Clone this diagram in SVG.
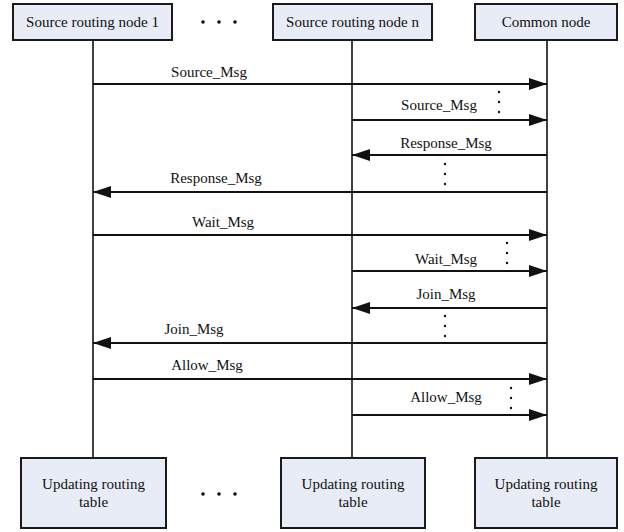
<svg xmlns="http://www.w3.org/2000/svg" width="624" height="532" viewBox="0 0 624 532" font-family="'Liberation Serif', 'DejaVu Serif', 'Times New Roman', serif">
  <style>
    .box { fill: #e8ecf6; stroke: #1a1a1a; stroke-width: 2; }
    .txt { font-family: 'Liberation Serif', 'DejaVu Serif', 'Times New Roman', serif; font-size: 15px; fill: #111; text-anchor: middle; }
    .life { stroke: #111; stroke-width: 1.6; fill: none; }
    .msg { stroke: #111; stroke-width: 1.8; fill: none; }
    .dot { fill: #111; }
  </style>
  <defs>
    <marker id="head" viewBox="0 0 18 12" refX="18" refY="6" markerWidth="18" markerHeight="12" markerUnits="userSpaceOnUse" orient="auto">
      <path d="M0,0 L18,6 L0,12 Z" fill="#111"/>
    </marker>
  </defs>

  <!-- lifelines -->
  <g id="lifelines">
    <line class="life" x1="93" y1="40" x2="93" y2="458"/>
    <line class="life" x1="352" y1="40" x2="352" y2="458"/>
    <line class="life" x1="547" y1="40" x2="547" y2="458"/>
  </g>

  <!-- top participants -->
  <g id="src1">
    <rect class="box" x="13" y="4" width="159" height="36"/>
    <text class="txt" x="92.5" y="27">Source routing node 1</text>
  </g>
  <g id="srcn">
    <rect class="box" x="273" y="4" width="159" height="36"/>
    <text class="txt" x="352.5" y="27">Source routing node n</text>
  </g>
  <g id="common">
    <rect class="box" x="475" y="4" width="142" height="36"/>
    <text class="txt" x="546" y="27">Common node</text>
  </g>
  <g id="top-ellipsis">
    <circle class="dot" cx="203" cy="22" r="1.8"/>
    <circle class="dot" cx="219" cy="22" r="1.8"/>
    <circle class="dot" cx="235" cy="22" r="1.8"/>
  </g>

  <!-- bottom actions -->
  <g id="upd1">
    <rect class="box" x="21" y="458" width="145" height="70"/>
    <text class="txt" x="93.5" y="489">Updating routing</text>
    <text class="txt" x="93.5" y="507">table</text>
  </g>
  <g id="updn">
    <rect class="box" x="281" y="458" width="144" height="70"/>
    <text class="txt" x="353" y="489">Updating routing</text>
    <text class="txt" x="353" y="507">table</text>
  </g>
  <g id="updc">
    <rect class="box" x="475" y="458" width="142" height="70"/>
    <text class="txt" x="546" y="489">Updating routing</text>
    <text class="txt" x="546" y="507">table</text>
  </g>
  <g id="bottom-ellipsis">
    <circle class="dot" cx="203" cy="494" r="1.8"/>
    <circle class="dot" cx="219" cy="494" r="1.8"/>
    <circle class="dot" cx="235" cy="494" r="1.8"/>
  </g>

  <!-- messages -->
  <g id="connectors">
    <line class="msg" x1="93" y1="84" x2="547" y2="84" marker-end="url(#head)"/>
    <line class="msg" x1="352" y1="120" x2="547" y2="120" marker-end="url(#head)"/>
    <line class="msg" x1="547" y1="155" x2="352" y2="155" marker-end="url(#head)"/>
    <line class="msg" x1="547" y1="192" x2="93" y2="192" marker-end="url(#head)"/>
    <line class="msg" x1="93" y1="235" x2="547" y2="235" marker-end="url(#head)"/>
    <line class="msg" x1="352" y1="271" x2="547" y2="271" marker-end="url(#head)"/>
    <line class="msg" x1="547" y1="308" x2="352" y2="308" marker-end="url(#head)"/>
    <line class="msg" x1="547" y1="343" x2="93" y2="343" marker-end="url(#head)"/>
    <line class="msg" x1="93" y1="379" x2="547" y2="379" marker-end="url(#head)"/>
    <line class="msg" x1="352" y1="415" x2="547" y2="415" marker-end="url(#head)"/>
  </g>

  <g id="labels">
    <text class="txt" x="209" y="77">Source_Msg</text>
    <text class="txt" x="439" y="110">Source_Msg</text>
    <text class="txt" x="446" y="148">Response_Msg</text>
    <text class="txt" x="216" y="183">Response_Msg</text>
    <text class="txt" x="223" y="227">Wait_Msg</text>
    <text class="txt" x="446" y="264">Wait_Msg</text>
    <text class="txt" x="446" y="299">Join_Msg</text>
    <text class="txt" x="194" y="334">Join_Msg</text>
    <text class="txt" x="207" y="370">Allow_Msg</text>
    <text class="txt" x="446" y="402">Allow_Msg</text>
  </g>

  <!-- vertical ellipses between messages -->
  <g id="gaps">
    <circle class="dot" cx="499" cy="92" r="1.2"/>
    <circle class="dot" cx="499" cy="102" r="1.2"/>
    <circle class="dot" cx="499" cy="112" r="1.2"/>
    <circle class="dot" cx="445" cy="164" r="1.2"/>
    <circle class="dot" cx="445" cy="174" r="1.2"/>
    <circle class="dot" cx="445" cy="184" r="1.2"/>
    <circle class="dot" cx="507" cy="243" r="1.2"/>
    <circle class="dot" cx="507" cy="253" r="1.2"/>
    <circle class="dot" cx="507" cy="263" r="1.2"/>
    <circle class="dot" cx="445" cy="316" r="1.2"/>
    <circle class="dot" cx="445" cy="326" r="1.2"/>
    <circle class="dot" cx="445" cy="336" r="1.2"/>
    <circle class="dot" cx="511" cy="388" r="1.2"/>
    <circle class="dot" cx="511" cy="398" r="1.2"/>
    <circle class="dot" cx="511" cy="408" r="1.2"/>
  </g>
</svg>
